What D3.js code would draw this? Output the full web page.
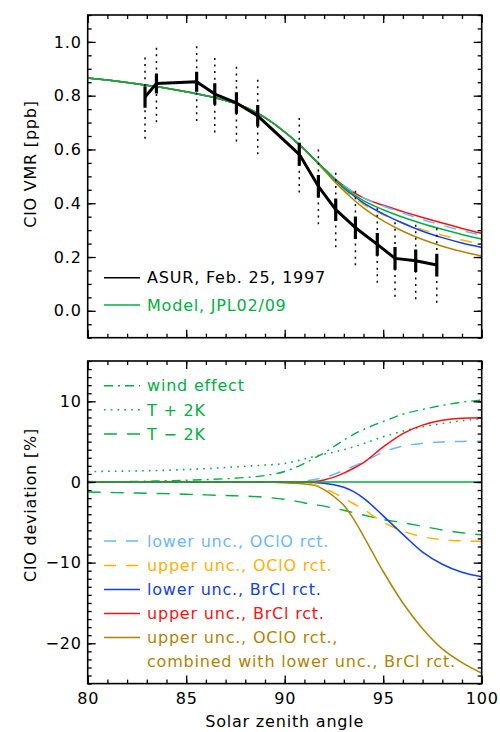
<!DOCTYPE html>
<html>
<head>
<meta charset="utf-8">
<script src="https://cdn.jsdelivr.net/npm/d3@7"></script>
<style>
  html, body { margin: 0; padding: 0; background: #fff; }
  svg text { font-family: "DejaVu Sans", sans-serif; font-size: 16px; letter-spacing: 0.8px; }
</style>
</head>
<body>
<svg id="chart" width="500" height="732"></svg>
<script>
// Solar zenith angle grid shared by all model runs
const sza = [80, 81, 82, 83, 84, 85, 86, 87, 88, 89, 90, 90.5, 91, 91.5, 92, 92.5, 93, 93.5, 94, 95, 96, 97, 98, 99, 100];

// Reference model ClO VMR [ppb], JPL02/09 kinetics
const modelVmr = [0.866, 0.858, 0.849, 0.839, 0.828, 0.815, 0.800, 0.782, 0.757, 0.718, 0.665, 0.634, 0.600, 0.564, 0.528, 0.492, 0.460, 0.433, 0.410, 0.376, 0.348, 0.324, 0.303, 0.284, 0.267];

// Deviations from the reference run [%]
const windEffect = [0.05, 0.03, 0.05, 0.1, 0.15, 0.22, 0.3, 0.4, 0.55, 0.8, 1.3, 1.75, 2.3, 2.95, 3.6, 4.4, 5.2, 5.9, 6.5, 7.5, 8.4, 9.0, 9.5, 9.9, 10.15];
const tPlus2K = [1.3, 1.32, 1.35, 1.4, 1.45, 1.55, 1.65, 1.8, 1.95, 2.1, 2.3, 2.55, 2.85, 3.15, 3.45, 3.7, 4.0, 4.35, 4.75, 5.6, 6.3, 6.85, 7.25, 7.6, 7.85];
const tMinus2K = [-1.25, -1.3, -1.35, -1.4, -1.45, -1.52, -1.6, -1.68, -1.75, -1.9, -2.15, -2.35, -2.6, -2.8, -3.0, -3.25, -3.5, -3.8, -4.1, -4.65, -5.05, -5.5, -5.95, -6.3, -6.55];
const lowerOClO = [0, 0, 0, 0, 0, 0, 0, 0, 0, 0, 0, 0.03, 0.1, 0.3, 0.55, 0.95, 1.45, 1.95, 2.5, 3.7, 4.45, 4.8, 4.97, 5.03, 5.05];
const upperOClO = [0, 0, 0, 0, 0, 0, 0, 0, 0, 0, 0, 0, -0.05, -0.3, -0.8, -1.35, -2.0, -2.7, -3.4, -5.0, -6.1, -6.8, -7.15, -7.3, -7.37];
const lowerBrCl = [0, 0, 0, 0, 0, 0, 0, 0, 0, 0, 0, 0, 0, -0.05, -0.15, -0.35, -0.65, -1.2, -2.0, -4.2, -6.5, -8.7, -10.2, -11.2, -11.75];
const upperBrCl = [0, 0, 0, 0, 0, 0, 0, 0, 0, 0, 0, 0, 0, 0.05, 0.25, 0.6, 1.1, 1.7, 2.4, 4.35, 6.0, 7.05, 7.65, 7.9, 7.95];
const combined = [0, 0, 0, 0, 0, 0, 0, 0, 0, 0, -0.1, -0.15, -0.25, -0.4, -0.95, -1.8, -2.9, -4.6, -6.7, -11.1, -15.0, -18.2, -20.7, -22.4, -23.7];

// ASUR measurements, Feb. 25, 1997
const asurSza = [82.91, 83.49, 85.53, 86.45, 87.55, 88.63, 90.74, 91.71, 92.59, 93.59, 94.70, 95.60, 96.65, 97.72];
const asurVmr = [0.795, 0.845, 0.852, 0.806, 0.773, 0.725, 0.582, 0.463, 0.376, 0.309, 0.247, 0.195, 0.186, 0.170];
const asurErr = [0.04, 0.037, 0.037, 0.04, 0.04, 0.04, 0.043, 0.042, 0.042, 0.042, 0.042, 0.042, 0.042, 0.042];
const asurErrTotal = [0.155, 0.144, 0.146, 0.143, 0.143, 0.143, 0.142, 0.141, 0.14, 0.14, 0.143, 0.143, 0.143, 0.14];

// Axis ticks
const xMajor = [80, 85, 90, 95, 100];
const vmrMajor = [0.0, 0.2, 0.4, 0.6, 0.8, 1.0];
const devMajor = [-20, -10, 0, 10];

const C = {
  green: "#00b040",
  red: "#ff1010",
  lightBlue: "#6ab8ff",
  orange: "#ffb000",
  blue: "#1040f0",
  brown: "#b08400",
  black: "#000"
};

const svg = d3.select("#chart");

const left = 87.7, right = 481.7;
const x = d3.scaleLinear().domain([80, 100]).range([left, right]);
const yTop = d3.scaleLinear().domain([-0.1, 1.1]).range([337.7, 15]);
const yBot = d3.scaleLinear().domain([-25, 15]).range([683.6, 361]);

const xMinor = d3.range(80, 100.001, 1);
const vmrMinor = d3.range(-0.1, 1.1001, 0.05);
const devMinor = d3.range(-25, 15.001, 1);

// Boxed frame with inward ticks on all four sides
function frame(y, majorY, minorY, fmtY, showX) {
  const top = y.range()[1], bottom = y.range()[0];
  const g = svg.append("g");
  const sides = [
    { make: () => d3.axisBottom(x), tr: `translate(0,${bottom})`, major: xMajor, minor: xMinor, labels: showX, fmt: d3.format("d"), pad: 9 },
    { make: () => d3.axisTop(x), tr: `translate(0,${top})`, major: xMajor, minor: xMinor, labels: false, pad: 6 },
    { make: () => d3.axisLeft(y), tr: `translate(${left},0)`, major: majorY, minor: minorY, labels: true, fmt: fmtY, pad: 6 },
    { make: () => d3.axisRight(y), tr: `translate(${right},0)`, major: majorY, minor: minorY, labels: false, pad: 6 }
  ];
  sides.forEach(a => {
    const minorG = g.append("g").attr("transform", a.tr)
      .call(a.make().tickValues(a.minor).tickSize(-4).tickFormat(""));
    minorG.select(".domain").remove();
    const majorG = g.append("g").attr("transform", a.tr)
      .call(a.make().tickValues(a.major).tickSize(-8).tickPadding(a.pad)
        .tickFormat(a.labels ? a.fmt : ""));
    majorG.select(".domain").remove();
    majorG.selectAll("text")
      .attr("fill", "#000")
      .style("font-family", "DejaVu Sans, sans-serif")
      .style("font-size", "16px");
  });
  g.selectAll("line").attr("stroke", "#000").attr("stroke-width", 1.3);
  g.append("rect")
    .attr("x", left).attr("y", top)
    .attr("width", right - left).attr("height", bottom - top)
    .attr("fill", "none").attr("stroke", "#000").attr("stroke-width", 1.6);
}

// ---------- upper panel: ClO VMR ----------
svg.append("clipPath").attr("id", "clipTop").append("rect")
  .attr("x", left).attr("y", 15).attr("width", right - left).attr("height", 337.7 - 15);
const pTop = svg.append("g").attr("clip-path", "url(#clipTop)");

const lineTop = d3.line().x(d => x(d[0])).y(d => yTop(d[1])).curve(d3.curveMonotoneX);
const scaled = dev => sza.map((s, i) => [s, modelVmr[i] * (1 + dev[i] / 100)]);

const topCurves = [
  { data: scaled(upperBrCl), color: C.red, dash: null },
  { data: scaled(lowerOClO), color: C.lightBlue, dash: "12,10" },
  { data: scaled(upperOClO), color: C.orange, dash: "12,10" },
  { data: scaled(lowerBrCl), color: C.blue, dash: null },
  { data: scaled(combined), color: C.brown, dash: null },
  { data: sza.map((s, i) => [s, modelVmr[i]]), color: C.green, dash: null }
];
topCurves.forEach(c => {
  pTop.append("path").datum(c.data).attr("d", lineTop)
    .attr("fill", "none").attr("stroke", c.color).attr("stroke-width", 1.5)
    .attr("stroke-dasharray", c.dash);
});

// ASUR error bars: total (dotted) and precision (thick)
asurSza.forEach((s, i) => {
  pTop.append("line")
    .attr("x1", x(s)).attr("x2", x(s))
    .attr("y1", yTop(asurVmr[i] - asurErrTotal[i])).attr("y2", yTop(asurVmr[i] + asurErrTotal[i]))
    .attr("stroke", "#000").attr("stroke-width", 1.5).attr("stroke-dasharray", "2,4.6");
});
pTop.append("path").datum(asurSza.map((s, i) => [s, asurVmr[i]]))
  .attr("d", d3.line().x(d => x(d[0])).y(d => yTop(d[1])))
  .attr("fill", "none").attr("stroke", "#000").attr("stroke-width", 3).attr("stroke-linejoin", "round");
asurSza.forEach((s, i) => {
  pTop.append("line")
    .attr("x1", x(s)).attr("x2", x(s))
    .attr("y1", yTop(asurVmr[i] - asurErr[i])).attr("y2", yTop(asurVmr[i] + asurErr[i]))
    .attr("stroke", "#000").attr("stroke-width", 3.2);
});

frame(yTop, vmrMajor, vmrMinor, d3.format(".1f"), false);

// legend, upper panel
const legTop = [
  { label: "ASUR, Feb. 25, 1997", color: C.black, y: 277.7 },
  { label: "Model, JPL02/09", color: C.green, y: 305 }
];
legTop.forEach(l => {
  svg.append("line").attr("x1", 104).attr("x2", 140).attr("y1", l.y).attr("y2", l.y)
    .attr("stroke", l.color).attr("stroke-width", 1.4);
  svg.append("text").attr("x", 147).attr("y", l.y).attr("dy", "0.36em")
    .attr("fill", l.color).text(l.label);
});

svg.append("text")
  .attr("transform", "translate(36,164) rotate(-90)")
  .attr("text-anchor", "middle").attr("fill", "#000")
  .text("ClO VMR [ppb]");

// ---------- lower panel: ClO deviation ----------
svg.append("clipPath").attr("id", "clipBot").append("rect")
  .attr("x", left).attr("y", 361).attr("width", right - left).attr("height", 683.6 - 361);
const pBot = svg.append("g").attr("clip-path", "url(#clipBot)");
const lineBot = d3.line().x(d => x(d[0])).y(d => yBot(d[1])).curve(d3.curveMonotoneX);

const botCurves = [
  { dev: tMinus2K, color: C.green, dash: "13,10", w: 1.4 },
  { dev: tPlus2K, color: C.green, dash: "1.6,5.2", w: 1.6 },
  { dev: windEffect, color: C.green, dash: "9,5,2,5", w: 1.4 },
  { dev: combined, color: C.brown, dash: null, w: 1.5 },
  { dev: upperOClO, color: C.orange, dash: "12,10", w: 1.5 },
  { dev: lowerBrCl, color: C.blue, dash: null, w: 1.5 },
  { dev: lowerOClO, color: C.lightBlue, dash: "12,10", w: 1.5 },
  { dev: upperBrCl, color: C.red, dash: null, w: 1.5 },
  { dev: sza.map(() => 0), color: C.green, dash: null, w: 1.5 }
];
botCurves.forEach(c => {
  pBot.append("path").datum(sza.map((s, i) => [s, c.dev[i]])).attr("d", lineBot)
    .attr("fill", "none").attr("stroke", c.color).attr("stroke-width", c.w)
    .attr("stroke-dasharray", c.dash);
});

frame(yBot, devMajor, devMinor, d3.format("d"), true);

const legBot = [
  { label: "wind effect", color: C.green, dash: "9,5,2,5", y: 385.7 },
  { label: "T + 2K", color: C.green, dash: "1.6,5.2", y: 409.8 },
  { label: "T \u2212 2K", color: C.green, dash: "13,10", y: 434 },
  { label: "lower unc., OClO rct.", color: C.lightBlue, dash: "12,10", y: 541 },
  { label: "upper unc., OClO rct.", color: C.orange, dash: "12,10", y: 565.5 },
  { label: "lower unc., BrCl rct.", color: C.blue, dash: null, y: 589.5 },
  { label: "upper unc., BrCl rct.", color: C.red, dash: null, y: 613.5 },
  { label: "upper unc., OClO rct.,", color: C.brown, dash: null, y: 637.5 }
];
legBot.forEach(l => {
  svg.append("line").attr("x1", 104).attr("x2", 140).attr("y1", l.y).attr("y2", l.y)
    .attr("stroke", l.color).attr("stroke-width", 1.4).attr("stroke-dasharray", l.dash);
  svg.append("text").attr("x", 147).attr("y", l.y).attr("dy", "0.36em")
    .attr("fill", l.color).text(l.label);
});
svg.append("text").attr("x", 147).attr("y", 661.5).attr("dy", "0.36em")
  .attr("fill", C.brown).text("combined with lower unc., BrCl rct.");

svg.append("text")
  .attr("transform", "translate(36,505) rotate(-90)")
  .attr("text-anchor", "middle").attr("fill", "#000")
  .text("ClO deviation [%]");

svg.append("text")
  .attr("x", (left + right) / 2).attr("y", 727)
  .attr("text-anchor", "middle").attr("fill", "#000")
  .text("Solar zenith angle");
</script>
</body>
</html>
